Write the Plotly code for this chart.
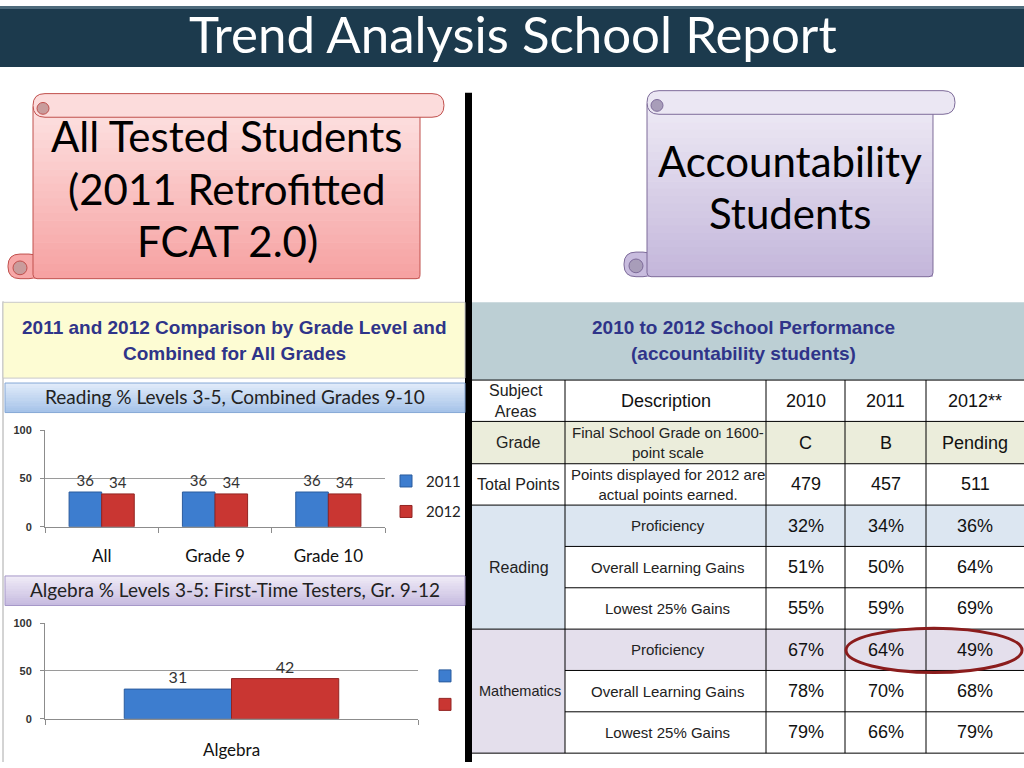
import plotly.graph_objects as go

W, H = 1024, 768

# ---- chart data ----
reading_groups = ["All", "Grade 9", "Grade 10"]
reading_2011 = [36, 36, 36]
reading_2012 = [34, 34, 34]

algebra_groups = ["Algebra"]
algebra_2011 = [31]
algebra_2012 = [42]

# ---- table data ----
table_years = ["2010", "2011", "2012**"]
table_subjects = ["Grade", "Total Points", "Reading", "Mathematics"]
table_desc = ["Final School Grade on 1600-<br>point scale",
              "Points displayed for 2012 are<br>actual points earned.",
              "Proficiency", "Overall Learning Gains", "Lowest 25% Gains",
              "Proficiency", "Overall Learning Gains", "Lowest 25% Gains"]
table_2010 = ["C", "479", "32%", "51%", "55%", "67%", "78%", "79%"]
table_2011 = ["B", "457", "34%", "50%", "59%", "64%", "70%", "66%"]
table_2012 = ["Pending", "511", "36%", "64%", "69%", "49%", "68%", "79%"]

CAL = "Lato, 'Open Sans', sans-serif"
ARIAL = "'Liberation Sans', Arial, sans-serif"
BLUE = "#3d7dcf"
RED = "#c93632"

shapes = []
annotations = []


def px(x):
    return x / W


def py(y):
    return 1 - y / H


def rect(x0, y0, x1, y1, fill=None, line=None, width=1, layer="below"):
    shapes.append(dict(type="rect", xref="paper", yref="paper",
                       x0=px(x0), x1=px(x1), y0=py(y1), y1=py(y0),
                       fillcolor=fill or "rgba(0,0,0,0)",
                       line=dict(color=line or "rgba(0,0,0,0)", width=width if line else 0),
                       layer=layer))


def hline(x0, x1, y, color="#000", width=1):
    shapes.append(dict(type="line", xref="paper", yref="paper", x0=px(x0), x1=px(x1),
                       y0=py(y), y1=py(y), line=dict(color=color, width=width), layer="below"))


def vline(x, y0, y1, color="#000", width=1):
    shapes.append(dict(type="line", xref="paper", yref="paper", x0=px(x), x1=px(x),
                       y0=py(y0), y1=py(y1), line=dict(color=color, width=width), layer="below"))


def mix(c1, c2, t):
    a = [int(c1[i:i + 2], 16) for i in (1, 3, 5)]
    b = [int(c2[i:i + 2], 16) for i in (1, 3, 5)]
    return "#%02x%02x%02x" % tuple(round(a[k] + (b[k] - a[k]) * t) for k in range(3))


def grad(x0, y0, x1, y1, ctop, cbot, n=24):
    h = (y1 - y0) / n
    for i in range(n):
        rect(x0, y0 + i * h, x1, min(y1, y0 + (i + 1) * h + 0.6), fill=mix(ctop, cbot, i / (n - 1)))


def rpath(x0, y0, x1, y1, r, fill=None, line=None, width=1):
    def P(x, y):
        return "%.5f,%.5f" % (px(x), py(y))
    d = ("M" + P(x0 + r, y0) + " L" + P(x1 - r, y0) + " Q" + P(x1, y0) + " " + P(x1, y0 + r) +
         " L" + P(x1, y1 - r) + " Q" + P(x1, y1) + " " + P(x1 - r, y1) +
         " L" + P(x0 + r, y1) + " Q" + P(x0, y1) + " " + P(x0, y1 - r) +
         " L" + P(x0, y0 + r) + " Q" + P(x0, y0) + " " + P(x0 + r, y0) + " Z")
    shapes.append(dict(type="path", xref="paper", yref="paper", path=d,
                       fillcolor=fill or "rgba(0,0,0,0)",
                       line=dict(color=line or "rgba(0,0,0,0)", width=width if line else 0),
                       layer="below"))


def circ(cx, cy, r, fill, line, width=1):
    shapes.append(dict(type="circle", xref="paper", yref="paper",
                       x0=px(cx - r), x1=px(cx + r), y0=py(cy + r), y1=py(cy - r),
                       fillcolor=fill, line=dict(color=line, width=width), layer="below"))


def text(x, y, s, size, color="#000", family=ARIAL, bold=False, xanchor="center"):
    annotations.append(dict(x=px(x), y=py(y), xref="paper", yref="paper", text=s,
                            showarrow=False, xanchor=xanchor, yanchor="middle",
                            font=dict(size=size, color=color, family=family,
                                      weight="bold" if bold else "normal")))


def scroll(x0, x1, ytop, ybot, roll_r, curl_x, ctop, cbot, roll_fill, curl_fill, edge):
    # bottom-left curl behind the body
    rpath(curl_x, ybot - 25, x0 + 8, ybot, 12, fill=mix(ctop, cbot, 0.9), line=edge)
    grad(x0, ytop + 10, x1, ybot, ctop, cbot)
    rpath(x0, ytop + 10, x1, ybot, 4, line=edge)
    circ(curl_x + 12, ybot - 11, 7, curl_fill, edge)
    # top roll
    rpath(x0, ytop, roll_r, ytop + 24, 12, fill=roll_fill, line=edge)
    circ(x0 + 10, ytop + 15, 6, curl_fill, edge)


# ---- title bar ----
rect(0, 0, W, 62, fill="#1c3a4d")
rect(0, 0, W, 3, fill="#4d6a7b")
text(513, 28, "Trend Analysis School Report", 51, color="#ffffff", family=CAL)

# ---- scrolls ----
scroll(33, 420, 89, 277, 444, 8, "#fde2e2", "#f6a2a2", "#fcdcdc", "#c99c9c", "#c0504d")
text(227, 132, "All Tested Students", 42, family=CAL)
text(227, 186, "(2011 Retrofitted", 42, family=CAL)
text(227, 239, "FCAT 2.0)", 42, family=CAL)

scroll(647, 933, 86, 275, 955, 624, "#eeeaf5", "#c4b7db", "#ebe7f3", "#a89db9", "#7d6b99")
text(790, 157, "Accountability", 42, family=CAL)
text(790, 210, "Students", 42, family=CAL)

# ---- divider ----
rect(465, 88, 472, H, fill="#000000")

# ---- left panel ----
vline(3, 300, H, color="#a8a8a8")
rect(3, 301, 465, 378, fill="#fdfcd3", line="#c8c8c8")
text(234, 327, "2011 and 2012 Comparison by Grade Level and", 19, color="#2f3489", bold=True)
text(234, 353, "Combined for All Grades", 19, color="#2f3489", bold=True)

grad(5, 383, 465, 413, "#e0ebf9", "#a6c3e9", n=12)
rect(5, 383, 465, 413, line="#86a8d6")
text(235, 397, "Reading % Levels 3-5, Combined Grades 9-10", 19, color="#222", family=CAL)

grad(5, 579, 465, 609, "#efeaf6", "#c7bce0", n=12)
rect(5, 579, 465, 609, line="#a597c8")
text(235, 593, "Algebra % Levels 3-5: First-Time Testers, Gr. 9-12", 19, color="#222", family=CAL)

# ---- right table ----
cols = [472, 565, 766, 845, 926, 1024]
rows = [380, 422, 465, 507, 549, 591, 633, 675, 717, 759]

rect(472, 301, 1024, 380, fill="#bccfd4")
text(743, 327, "2010 to 2012 School Performance", 19, color="#2f3489", bold=True)
text(743, 353, "(accountability students)", 19, color="#2f3489", bold=True)

rect(472, rows[1], 1024, rows[2], fill="#ebeddb")
rect(472, rows[3], 565, rows[6], fill="#dce6f1")
rect(565, rows[3], 1024, rows[4], fill="#dce6f1")
rect(472, rows[6], 565, rows[9], fill="#e4dfec")
rect(565, rows[6], 1024, rows[7], fill="#e4dfec")

for i, y in enumerate(rows):
    x_start = cols[1] if y in (rows[4], rows[5], rows[7], rows[8]) else cols[0]
    hline(x_start, 1024, y)
for x in cols[1:-1]:
    vline(x, rows[0], rows[-1])

ccx = [(cols[i] + cols[i + 1]) / 2 for i in range(len(cols) - 1)]
rcy = [(rows[i] + rows[i + 1]) / 2 for i in range(len(rows) - 1)]

text(ccx[0] - 3, rcy[0], "Subject<br>Areas", 16, color="#222")
text(ccx[1], rcy[0], "Description", 18, color="#111")
for k, yr in enumerate(table_years):
    text(ccx[2 + k], rcy[0], yr, 18, color="#111")

text(ccx[0], rcy[1], table_subjects[0], 16, color="#222")
text(ccx[0], rcy[2], table_subjects[1], 16, color="#222")
text(ccx[0], (rows[3] + rows[6]) / 2, table_subjects[2], 16, color="#222")
text(ccx[0] + 1, (rows[6] + rows[9]) / 2, table_subjects[3], 14.5, color="#222")

for r in range(len(table_desc)):
    text(ccx[1] + 2, rcy[r + 1], table_desc[r], 15, color="#222")
    for k, col in enumerate([table_2010, table_2011, table_2012]):
        text(ccx[2 + k], rcy[r + 1], col[r], 18, color="#111")

# highlight ellipse
shapes.append(dict(type="circle", xref="paper", yref="paper",
                   x0=px(846), x1=px(1022), y0=py(677), y1=py(632),
                   line=dict(color="#8b1c1c", width=3), layer="above"))

# ---- bar charts ----
fig = go.Figure()
fig.add_trace(go.Bar(x=reading_groups, y=reading_2011, name="2011", marker_color=BLUE,
                     marker_line=dict(color="#2b5c9e", width=1),
                     text=reading_2011, textposition="outside", cliponaxis=False,
                     textfont=dict(family=CAL, size=15, color="#333"),
                     legendgroup="r1", xaxis="x", yaxis="y"))
fig.add_trace(go.Bar(x=reading_groups, y=reading_2012, name="2012", marker_color=RED,
                     marker_line=dict(color="#922422", width=1),
                     text=reading_2012, textposition="outside", cliponaxis=False,
                     textfont=dict(family=CAL, size=15, color="#333"),
                     legendgroup="r2", xaxis="x", yaxis="y"))
# the algebra legend shows only the colour keys, no labels
fig.add_trace(go.Bar(x=algebra_groups, y=algebra_2011, name="", marker_color=BLUE,
                     marker_line=dict(color="#2b5c9e", width=1),
                     text=algebra_2011, textposition="outside", cliponaxis=False,
                     textfont=dict(family=CAL, size=16, color="#333"),
                     hovertemplate="2011: %{y}<extra></extra>",
                     legendgroup="a1", legend="legend2", xaxis="x2", yaxis="y2"))
fig.add_trace(go.Bar(x=algebra_groups, y=algebra_2012, name="", marker_color=RED,
                     marker_line=dict(color="#922422", width=1),
                     text=algebra_2012, textposition="outside", cliponaxis=False,
                     textfont=dict(family=CAL, size=16, color="#333"),
                     hovertemplate="2012: %{y}<extra></extra>",
                     legendgroup="a2", legend="legend2", xaxis="x2", yaxis="y2"))

xcommon = dict(showline=True, linecolor="#8c8c8c", ticks="outside", tickson="boundaries",
               ticklen=5, tickcolor="#8c8c8c", showgrid=False,
               tickfont=dict(family=CAL, size=17, color="#111"))
ycommon = dict(range=[0, 100], tickvals=[0, 50, 100], showline=True, linecolor="#8c8c8c",
               ticks="outside", ticklen=4, tickcolor="#8c8c8c", showgrid=True,
               gridcolor="#9a9a9a", zeroline=False, ticklabelstandoff=6,
               tickfont=dict(family=ARIAL, size=11, color="#333", weight="bold"))

fig.update_layout(
    width=W, height=H,
    margin=dict(l=0, r=0, t=0, b=0),
    paper_bgcolor="#ffffff", plot_bgcolor="rgba(0,0,0,0)",
    barmode="group", bargap=0.425, bargroupgap=0,
    xaxis=dict(domain=[px(45), px(385)], anchor="y", ticklabelstandoff=14, **xcommon),
    yaxis=dict(domain=[py(529), py(431)], anchor="x", **ycommon),
    xaxis2=dict(domain=[px(45), px(418)], anchor="y2", ticklabelstandoff=16, **xcommon),
    yaxis2=dict(domain=[py(724), py(627)], anchor="x2", **ycommon),
    legend=dict(x=px(386), y=py(466), xanchor="left", yanchor="top", bgcolor="rgba(0,0,0,0)",
                tracegroupgap=8, font=dict(family=CAL, size=15, color="#222")),
    legend2=dict(x=px(425), y=py(664), xanchor="left", yanchor="top", bgcolor="rgba(0,0,0,0)",
                 tracegroupgap=6, font=dict(family=CAL, size=15, color="#222")),
    shapes=shapes,
    annotations=annotations,
    showlegend=True,
)

fig.write_html("out.html", config={"displayModeBar": False},
               post_script="document.body.style.margin='0';")
